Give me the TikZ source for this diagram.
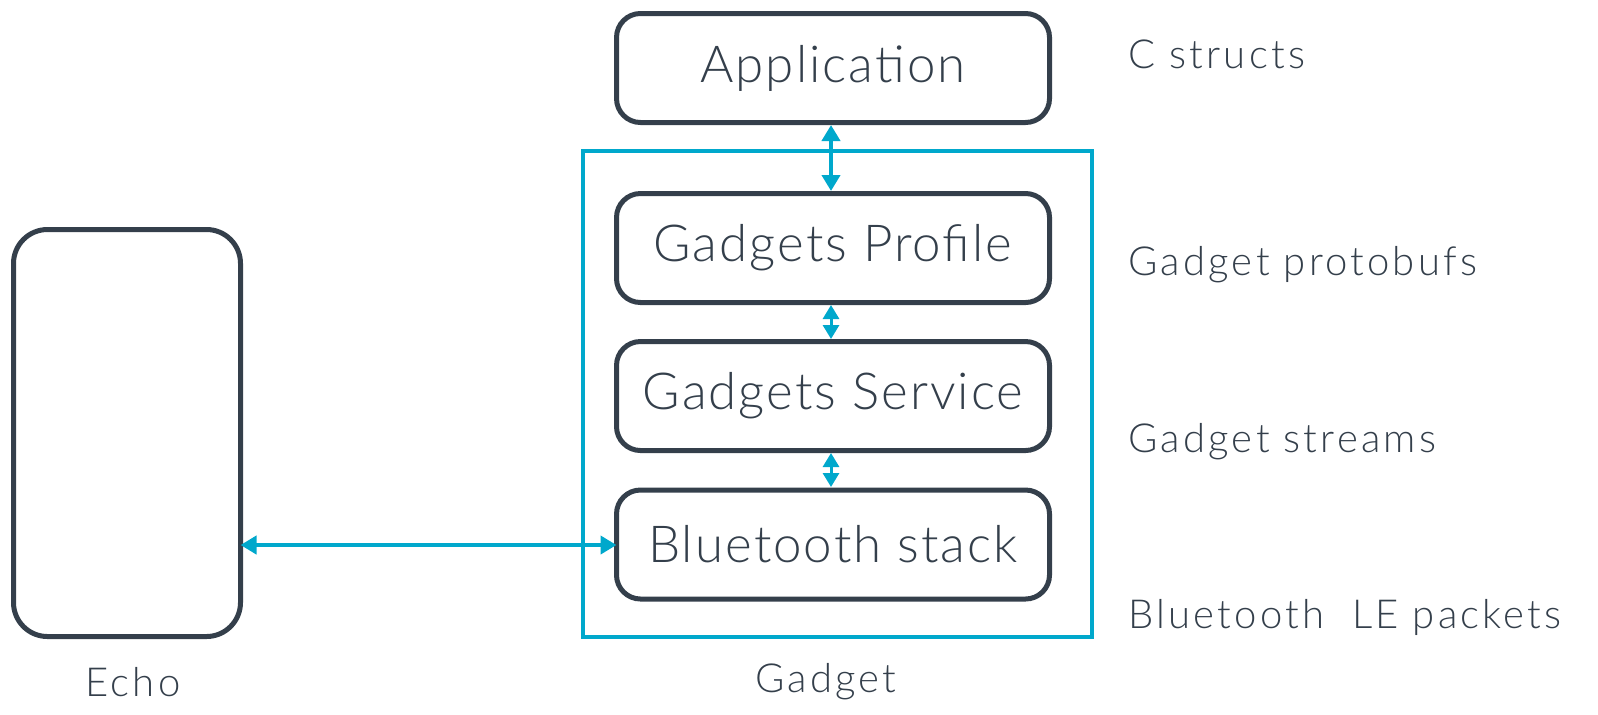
\documentclass[tikz,border=0pt]{standalone}
\usepackage{fontspec}
\setmainfont{Lato Light}[LetterSpace=4]
\newfontfamily\lblfont{Lato Light}[LetterSpace=8]
\usetikzlibrary{arrows.meta}
\definecolor{dk}{HTML}{343F4B}
\definecolor{cy}{HTML}{00A8CC}
\tikzset{
  box/.style={draw=dk, line width=2.5pt, rounded corners=12pt, minimum width=216.5pt, minimum height=54.5pt, inner sep=0pt, outer sep=0pt, text=dk, font=\fontsize{25.5}{30}\selectfont},
  lbl/.style={text=dk, font=\lblfont\fontsize{20}{24}\selectfont, anchor=west, inner sep=0pt},
  conn/.style={draw=cy, line width=2.4pt, {Triangle[length=8pt,width=9pt]}-{Triangle[length=8pt,width=9pt]}},
  hconn/.style={draw=cy, line width=2pt, {Triangle[length=8pt,width=9pt]}-{Triangle[length=8pt,width=9pt]}},
  sconn/.style={draw=cy, line width=1.5pt, {Triangle[length=7pt,width=8pt]}-{Triangle[length=7pt,width=8pt]}},
}
\begin{document}
\begin{tikzpicture}[x=0.5pt,y=-0.5pt]
\useasboundingbox (0,0) rectangle (1598,714);
\node[draw=cy, line width=1.75pt, minimum width=254.5pt, minimum height=243pt, inner sep=0pt, outer sep=0pt] (gad) at (837.5,394) {};
\node[box] (app) at (833,68) {Application};
\node[box] (prof) at (833,248) {Gadgets Profile};
\node[box] (serv) at (833,396) {Gadgets Service};
\node[box] (bt) at (833,544.5) {Bluetooth stack};
\node[draw=dk, line width=2.5pt, rounded corners=17pt, minimum width=113.5pt, minimum height=203.5pt, inner sep=0pt, outer sep=0pt] (echo) at (127,433) {};
\coordinate (a1) at (831,125);
\coordinate (a2) at (831,191);
\coordinate (b1) at (831,305);
\coordinate (b2) at (831,339);
\coordinate (c1) at (831,453);
\coordinate (c2) at (831,487);
\draw[conn] (a1) -- (a2);
\draw[sconn] (b1) -- (b2);
\draw[sconn] (c1) -- (c2);
\draw[hconn] (echo.east |- 0,545) -- (bt.west |- 0,545);
\node[lbl] (l1) at (1128,54) {C structs};
\node[lbl] (l2) at (1128,265) {Gadget protobufs};
\node[lbl] (l3) at (1128,442) {Gadget streams};
\node[lbl] (l4) at (1128,617) {Bluetooth\ \ LE packets};
\node[lbl, anchor=center] (le) at (133,682) {Echo};
\node[lbl, anchor=center] (lg) at (826,682) {Gadget};
\end{tikzpicture}
\end{document}
